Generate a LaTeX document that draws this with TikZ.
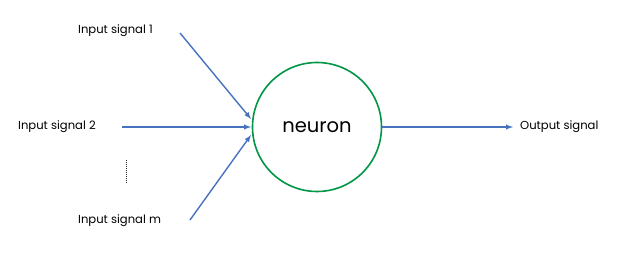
\documentclass[tikz,border=0pt]{standalone}
\usepackage{fontspec}
\setmainfont{Poppins}
\definecolor{sigblue}{RGB}{70,114,190}
\definecolor{nrngreen}{RGB}{0,150,70}
\tikzset{
  sig/.style={->,>=latex,draw=sigblue,line width=1.4pt},
  lbl/.style={anchor=west,inner sep=0pt,font=\fontsize{11.6}{13}\selectfont},
  neuron/.style={circle,draw=nrngreen,line width=1.6pt,minimum size=129pt,inner sep=0pt,
    font=\fontsize{19.5}{22}\selectfont}
}
\begin{document}
\begin{tikzpicture}[x=1pt,y=-1pt]
\useasboundingbox (0,0) rectangle (624,275);
\node[neuron] (nrn) at (317,127) {neuron};
\node[lbl] (l1) at (78,31) {Input signal 1};
\node[lbl] (l2) at (18,127) {Input signal 2};
\node[lbl] (lm) at (78,221) {Input signal m};
\node[lbl] (lo) at (520,127) {Output signal};
% arrow ends
\coordinate (s1) at (180,33);
\coordinate (s2) at (122,127);
\coordinate (sm) at (190,220);
\coordinate (e1) at (251,119);
\coordinate (e2) at (251,127);
\coordinate (em) at (251,135);
\coordinate (eo) at (513,127);
\draw[sig] (s1) -- (e1);
\draw[sig] (s2) -- (e2);
\draw[sig] (sm) -- (em);
\draw[sig] (nrn.east) -- (eo);
\draw[densely dotted,line width=1pt,black!80] (126,160) -- (126,184);
\end{tikzpicture}
\end{document}
